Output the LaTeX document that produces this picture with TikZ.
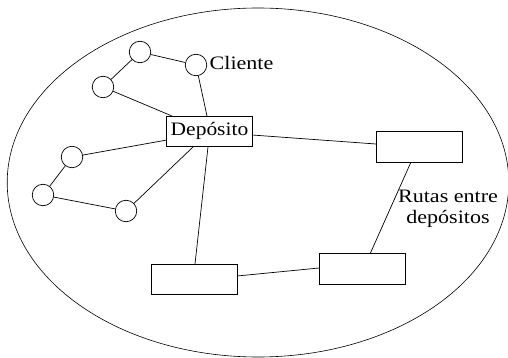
\documentclass[tikz,border=0pt]{standalone}
\usepackage{fontspec}
\setmainfont{Liberation Serif}
\begin{document}
\begin{tikzpicture}[x=1pt,y=-1pt,
  cli/.style={circle,draw,line width=0.7pt,minimum size=21.5pt,inner sep=0pt,fill=white},
  dep/.style={rectangle,draw,line width=0.7pt,minimum width=86pt,minimum height=30.5pt,inner sep=0pt,fill=white},
  lbl/.style={font=\fontsize{19}{20}\selectfont,inner sep=0pt},
  ln/.style={line width=0.7pt}]
\useasboundingbox (0,0) rectangle (508,358);
\draw[line width=0.6pt] (258,182.5) ellipse [x radius=250.8pt, y radius=174.5pt];
% depots
\node[dep] (d0) at (209.5,131.5) {};
\node[lbl] at (209.5,130.5) {\scalebox{1.13}[1]{Depósito}};
\node[dep] (d1) at (419,147) {};
\node[dep] (d2) at (362.5,269) {};
\node[dep] (d3) at (194,279.5) {};
% clients
\node[cli] (c1) at (140,52) {};
\node[cli] (c2) at (196,65) {};
\node[cli] (c3) at (103,87) {};
\node[cli] (c4) at (72,157) {};
\node[cli] (c5) at (43,195) {};
\node[cli] (c6) at (126,211) {};
% anchors on boxes
\coordinate (d0t1) at (207,116);
\coordinate (d0t2) at (172,116);
\coordinate (d0l) at (167,140);
\coordinate (d0b1) at (193,147);
\coordinate (d0b2) at (208,147);
\coordinate (d0r) at (252,135);
\coordinate (d1l) at (376,144);
\coordinate (d1b) at (411,162);
\coordinate (d2t) at (370,254);
\coordinate (d2l) at (319,268);
\coordinate (d3t) at (195,264);
\coordinate (d3r) at (237,276);
\draw[ln] (c3) -- (c1);
\draw[ln] (c1) -- (c2);
\draw[ln] (c2) -- (d0t1);
\draw[ln] (c3) -- (d0t2);
\draw[ln] (c4) -- (d0l);
\draw[ln] (c4) -- (c5);
\draw[ln] (c5) -- (c6);
\draw[ln] (c6) -- (d0b1);
\draw[ln] (d0b2) -- (d3t);
\draw[ln] (d0r) -- (d1l);
\draw[ln] (d1b) -- (d2t);
\draw[ln] (d3r) -- (d2l);
\node[lbl,anchor=west] at (209.5,63) {\scalebox{1.16}[1]{Cliente}};
\node[lbl,align=center] at (448,209) {\scalebox{1.16}[1]{Rutas entre}\\[0.5pt]\scalebox{1.16}[1]{depósitos}};
\end{tikzpicture}
\end{document}
